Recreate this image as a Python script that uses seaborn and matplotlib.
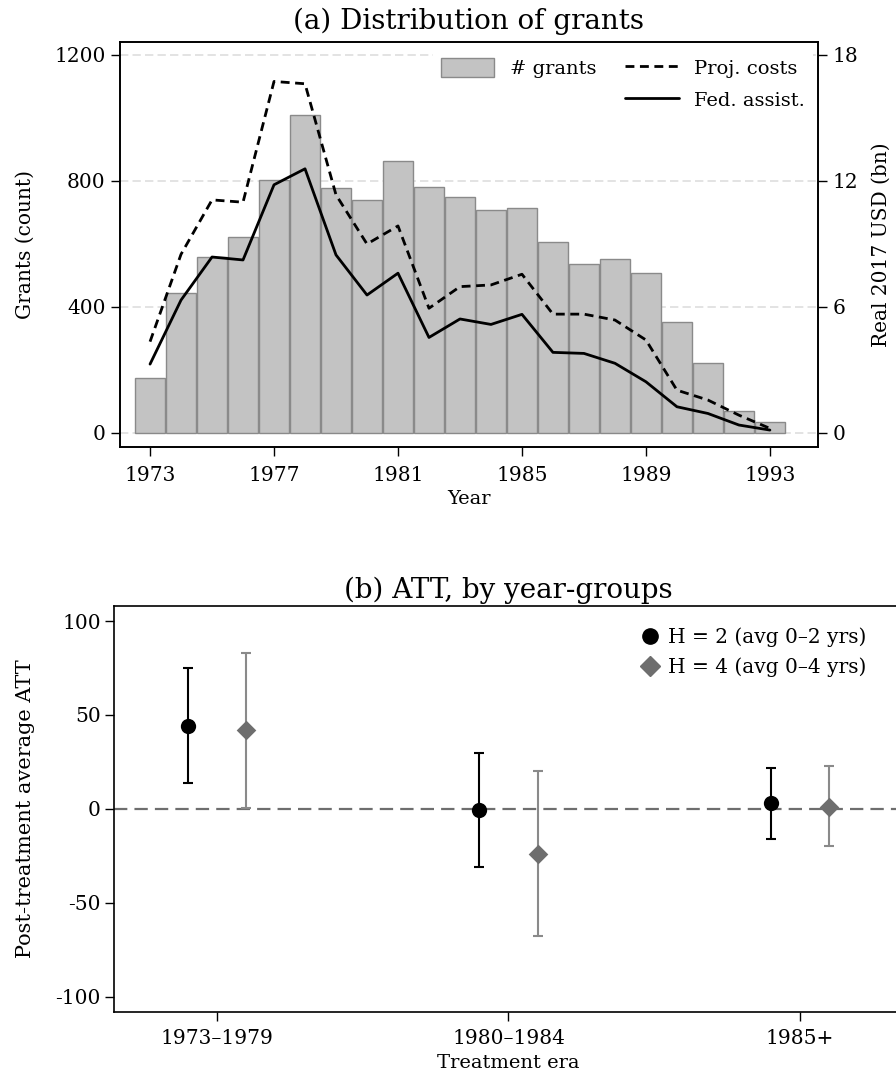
import numpy as np
import matplotlib
matplotlib.use("Agg")
import matplotlib.pyplot as plt
import seaborn as sns
from matplotlib.patches import Patch
from matplotlib.lines import Line2D

# ------------------------------------------
# data
# ------------------------------------------
years = list(range(1973, 1994))
grants = [175, 443, 558, 620, 801, 1008, 776, 740, 862, 779, 748,
          707, 715, 605, 536, 553, 506, 353, 220, 70, 35]
proj_costs = [4.34, 8.5, 11.09, 10.98, 16.73, 16.62, 11.33, 8.99, 9.85, 5.93, 6.96,
              7.04, 7.55, 5.65, 5.65, 5.37, 4.42, 2.03, 1.56, 0.84, 0.21]
fed_assist = [3.27, 6.32, 8.37, 8.23, 11.81, 12.57, 8.47, 6.56, 7.60, 4.54, 5.42,
              5.16, 5.64, 3.83, 3.78, 3.31, 2.43, 1.24, 0.92, 0.37, 0.13]
year_ticks = [1973, 1977, 1981, 1985, 1989, 1993]

eras = ["1973–1979", "1980–1984", "1985+"]
h2_est = [44.1, -0.7, 2.9]
h2_lo = [13.8, -30.8, -15.8]
h2_hi = [74.8, 29.5, 21.8]
h4_est = [41.9, -24.1, 1.1]
h4_lo = [0.5, -67.7, -19.7]
h4_hi = [82.8, 20.0, 22.7]

sns.set_style("ticks")
plt.rcParams["font.family"] = ["DejaVu Serif"]
plt.rcParams["axes.unicode_minus"] = False
plt.rcParams["text.color"] = "black"
plt.rcParams["axes.labelcolor"] = "black"
plt.rcParams["axes.linewidth"] = 1.2
plt.rcParams["xtick.major.width"] = 1.0
plt.rcParams["ytick.major.width"] = 1.0
plt.rcParams["xtick.major.size"] = 6.5
plt.rcParams["ytick.major.size"] = 6.5
plt.rcParams["axes.edgecolor"] = "black"
plt.rcParams["xtick.color"] = "black"
plt.rcParams["ytick.color"] = "black"

fig = plt.figure(figsize=(8.96, 10.82), dpi=100)

# ------------------------------------------
# (a) distribution of grants
# ------------------------------------------
ax1 = fig.add_axes([0.1339, 0.5869, 0.7790, 0.3747])
sns.barplot(x=years, y=grants, native_scale=True, color="#c3c3c3", saturation=1,
            edgecolor="#8a8a8a", linewidth=1.0, width=0.97, ax=ax1)
ax1.set_axisbelow(True)
ax1.yaxis.grid(True, color="#dedede", linestyle=(0, (5, 2.5)), linewidth=1.2)
ax1.xaxis.grid(False)
ax1.set_xlim(1972.03, 1994.55)
ax1.set_ylim(-45, 1242)
ax1.set_xticks(year_ticks)
ax1.set_xticklabels([str(y) for y in year_ticks])
ax1.set_yticks([0, 400, 800, 1200])
ax1.tick_params(axis="x", labelsize=14.5, pad=7)
ax1.tick_params(axis="y", labelsize=14.5, pad=4)
ax1.set_xlabel("Year", fontsize=14, labelpad=4)
ax1.set_ylabel("Grants (count)", fontsize=14.5, labelpad=14)
ax1.set_title("(a) Distribution of grants", fontsize=20, pad=9)

axr = ax1.twinx()
dash = (0, (3.2, 2.0))
sns.lineplot(x=years, y=proj_costs, color="black", linewidth=2.0, linestyle=dash, ax=axr)
sns.lineplot(x=years, y=fed_assist, color="black", linewidth=2.0, ax=axr)
axr.set_ylim(-0.675, 18.63)
axr.set_yticks([0, 6, 12, 18])
axr.tick_params(axis="y", labelsize=14.5, pad=4)
axr.set_ylabel("Real 2017 USD (bn)", fontsize=14.5, labelpad=10)
for s in ["top", "right", "left", "bottom"]:
    axr.spines[s].set_visible(True)

handles = [Patch(facecolor="#c3c3c3", edgecolor="#8a8a8a", linewidth=1.0),
           Line2D([], [], color="none"),
           Line2D([], [], color="black", linewidth=2.0, linestyle=dash),
           Line2D([], [], color="black", linewidth=2.0)]
labels = ["# grants", "", "Proj. costs", "Fed. assist."]
axr.legend(handles, labels, ncol=2, loc="upper right", bbox_to_anchor=(1.007, 1.003),
           fontsize=14, handlelength=2.75, handleheight=1.13, handletextpad=0.8,
           columnspacing=1.5, labelspacing=0.62, frameon=True, fancybox=False,
           framealpha=1, facecolor="white", edgecolor="none", borderpad=0.4)

# ------------------------------------------
# (b) ATT by year-groups
# ------------------------------------------
ax2 = fig.add_axes([0.1272, 0.0650, 0.8806, 0.3749])
pos = np.arange(len(eras))
x2 = pos - 0.1
x4 = pos + 0.1
ax2.axhline(0, color="#6e6e6e", linestyle=(0, (6.0, 3.2)), linewidth=1.6, zorder=1)
ax2.errorbar(x2, h2_est,
             yerr=[np.array(h2_est) - np.array(h2_lo), np.array(h2_hi) - np.array(h2_est)],
             fmt="none", ecolor="black", elinewidth=1.5, capsize=3.5, capthick=1.5, zorder=2)
ax2.errorbar(x4, h4_est,
             yerr=[np.array(h4_est) - np.array(h4_lo), np.array(h4_hi) - np.array(h4_est)],
             fmt="none", ecolor="#8a8a8a", elinewidth=1.5, capsize=3.5, capthick=1.5, zorder=2)
sns.scatterplot(x=x2, y=h2_est, marker="o", s=121, color="black", linewidth=0, zorder=3, ax=ax2)
sns.scatterplot(x=x4, y=h4_est, marker="D", s=100, color="#6e6e6e", linewidth=0, zorder=3, ax=ax2)
ax2.set_xlim(-0.353, 2.353)
ax2.set_ylim(-108, 108)
ax2.set_xticks(pos)
ax2.set_xticklabels(eras)
ax2.set_yticks([-100, -50, 0, 50, 100])
ax2.tick_params(axis="x", labelsize=14.5, pad=6)
ax2.tick_params(axis="y", labelsize=14.5, pad=3)
ax2.set_xlabel("Treatment era", fontsize=14, labelpad=4)
ax2.set_ylabel("Post-treatment average ATT", fontsize=15, labelpad=15)
ax2.set_title("(b) ATT, by year-groups", fontsize=20, pad=6)

leg_h = [Line2D([], [], marker="o", linestyle="none", color="black", markersize=11),
         Line2D([], [], marker="D", linestyle="none", color="#6e6e6e", markersize=10)]
ax2.legend(leg_h, ["H = 2 (avg 0–2 yrs)", "H = 4 (avg 0–4 yrs)"], loc="upper left",
           bbox_to_anchor=(0.644, 0.992), frameon=False, fontsize=14.5,
           handlelength=1.0, handletextpad=0.4, labelspacing=0.5, borderpad=0.4)

fig.savefig("out.png", dpi=100)
